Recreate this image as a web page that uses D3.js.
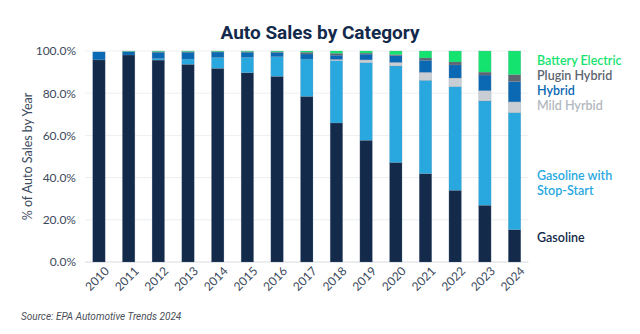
<!DOCTYPE html>
<html>
<head>
<meta charset="utf-8">
<script src="https://cdn.jsdelivr.net/npm/d3@7"></script>
<style>
  body { margin: 0; background: #fff; }
  svg { display: block; }
</style>
</head>
<body>
<div id="chart"></div>
<script>
// chart data (percent of sales per model year)
const years = ['2010','2011','2012','2013','2014','2015','2016','2017','2018','2019','2020','2021','2022','2023','2024'];
const gasoline      = [95.8, 98.1, 95.7, 93.7, 91.8, 89.7, 88.0, 78.5, 65.9, 57.7, 47.2, 41.9, 34.0, 26.9, 15.3];
const stopStart     = [0.0,  0.0,  0.7,  2.5,  5.1,  7.3,  9.3,  17.7, 29.5, 36.8, 45.7, 44.2, 49.1, 49.4, 55.5];
const mildHybrid    = [0.0,  0.0,  0.0,  0.0,  0.0,  0.0,  0.0,  0.0,  0.6,  1.3,  1.7,  3.8,  4.1,  4.9,  5.1];
const hybrid        = [3.8,  1.6,  3.0,  3.2,  2.6,  2.4,  2.0,  2.4,  2.0,  2.7,  3.2,  5.7,  6.2,  7.4,  9.6];
const pluginHybrid  = [0.0,  0.1,  0.3,  0.3,  0.2,  0.3,  0.3,  0.8,  0.9,  0.5,  0.5,  1.1,  1.4,  1.4,  3.3];
const batteryElec   = [0.0,  0.2,  0.3,  0.3,  0.3,  0.3,  0.4,  0.6,  1.1,  1.0,  1.7,  3.3,  5.2,  10.0, 11.2];
const yTicks = [0, 20, 40, 60, 80, 100];

const seriesKeys = ['gasoline','stopStart','mildHybrid','hybrid','pluginHybrid','batteryElec'];
const seriesColors = ['#132a4b','#29a8e0','#c9ced4','#0b68b3','#5c6570','#14e46f'];

const rows = years.map((y, i) => ({
  year: y,
  gasoline: gasoline[i],
  stopStart: stopStart[i],
  mildHybrid: mildHybrid[i],
  hybrid: hybrid[i],
  pluginHybrid: pluginHybrid[i],
  batteryElec: batteryElec[i]
}));

const width = 640, height = 334;
const margin = { top: 51, right: 111.5, bottom: 72, left: 85 };

const svg = d3.select('#chart').append('svg')
  .attr('width', width)
  .attr('height', height)
  .style('font-family', 'Lato, sans-serif');

const x = d3.scaleBand()
  .domain(years)
  .range([margin.left, width - margin.right])
  .paddingInner(0.58)
  .paddingOuter(0.26);

const y = d3.scaleLinear()
  .domain([0, 100])
  .range([height - margin.bottom, margin.top]);

// title
svg.append('text')
  .attr('x', 320)
  .attr('y', 39)
  .attr('text-anchor', 'middle')
  .style('font-family', 'Roboto, sans-serif')
  .style('font-weight', 700)
  .style('font-size', '19px')
  .attr('fill', '#13294b')
  .text('Auto Sales by Category');

// gridlines
svg.append('g')
  .selectAll('line')
  .data(yTicks)
  .join('line')
  .attr('x1', margin.left)
  .attr('x2', width - margin.right)
  .attr('y1', d => y(d))
  .attr('y2', d => y(d))
  .attr('stroke', d => d === 0 ? '#d5d9de' : '#eceff2')
  .attr('stroke-width', 1);

// y axis labels
const yAxis = svg.append('g')
  .attr('transform', `translate(${margin.left},0)`)
  .call(d3.axisLeft(y).tickValues(yTicks).tickFormat(d => d.toFixed(1) + '%').tickSize(0).tickPadding(9));
yAxis.select('.domain').remove();
yAxis.selectAll('text')
  .style('font-family', 'Lato, sans-serif')
  .style('font-size', '12px')
  .attr('fill', '#3c4a5c');

// y axis title
svg.append('text')
  .attr('transform', `translate(32,${(y(0) + y(100)) / 2}) rotate(-90)`)
  .attr('text-anchor', 'middle')
  .style('font-size', '12.5px')
  .attr('fill', '#3c4a5c')
  .text('% of Auto Sales by Year');

// stacked bars
const stack = d3.stack().keys(seriesKeys);
const layers = stack(rows);

svg.append('g')
  .selectAll('g')
  .data(layers)
  .join('g')
  .attr('fill', (d, i) => seriesColors[i])
  .selectAll('rect')
  .data(d => d)
  .join('rect')
  .attr('x', d => x(d.data.year))
  .attr('width', x.bandwidth())
  .attr('y', d => y(d[1]))
  .attr('height', d => Math.max(0, y(d[0]) - y(d[1])))
  .attr('stroke', '#7d8ea3')
  .attr('stroke-opacity', 0.35)
  .attr('stroke-width', 0.6);

// x axis labels
const xAxis = svg.append('g')
  .attr('transform', `translate(0,${y(0)})`)
  .call(d3.axisBottom(x).tickSize(0).tickPadding(0));
xAxis.select('.domain').remove();
xAxis.selectAll('text')
  .style('font-family', 'Lato, sans-serif')
  .style('font-size', '12px')
  .attr('fill', '#3c4a5c')
  .attr('text-anchor', 'end')
  .attr('transform', 'translate(5,4) rotate(-45)')
  .attr('y', 0)
  .attr('dy', '0.7em');

// legend (right side, placed next to 2024 segments)
const legendItems = [
  { lines: ['Battery Electric'], color: '#14e46f', y: 61 },
  { lines: ['Plugin Hybrid'], color: '#5c6570', y: 76 },
  { lines: ['Hybrid'], color: '#0b68b3', y: 91 },
  { lines: ['Mild Hyrbid'], color: '#b3b8be', y: 106 },
  { lines: ['Gasoline with', 'Stop-Start'], color: '#29a8e0', y: 176 },
  { lines: ['Gasoline'], color: '#13294b', y: 238 }
];

svg.append('g')
  .selectAll('text')
  .data(legendItems)
  .join('text')
  .attr('x', 537)
  .attr('y', d => d.y)
  .attr('fill', d => d.color)
  .style('font-size', '12.5px')
  .style('font-weight', 600)
  .each(function(d) {
    d3.select(this).selectAll('tspan')
      .data(d.lines)
      .join('tspan')
      .attr('x', 537)
      .attr('dy', (l, i) => i === 0 ? '0.35em' : '1.15em')
      .text(l => l);
  });

// source note
svg.append('text')
  .attr('x', 21)
  .attr('y', 320)
  .style('font-family', 'Roboto, sans-serif')
  .style('font-style', 'italic')
  .style('font-size', '10px')
  .attr('fill', '#4a4f57')
  .text('Source: EPA Automotive Trends 2024');
</script>
</body>
</html>
